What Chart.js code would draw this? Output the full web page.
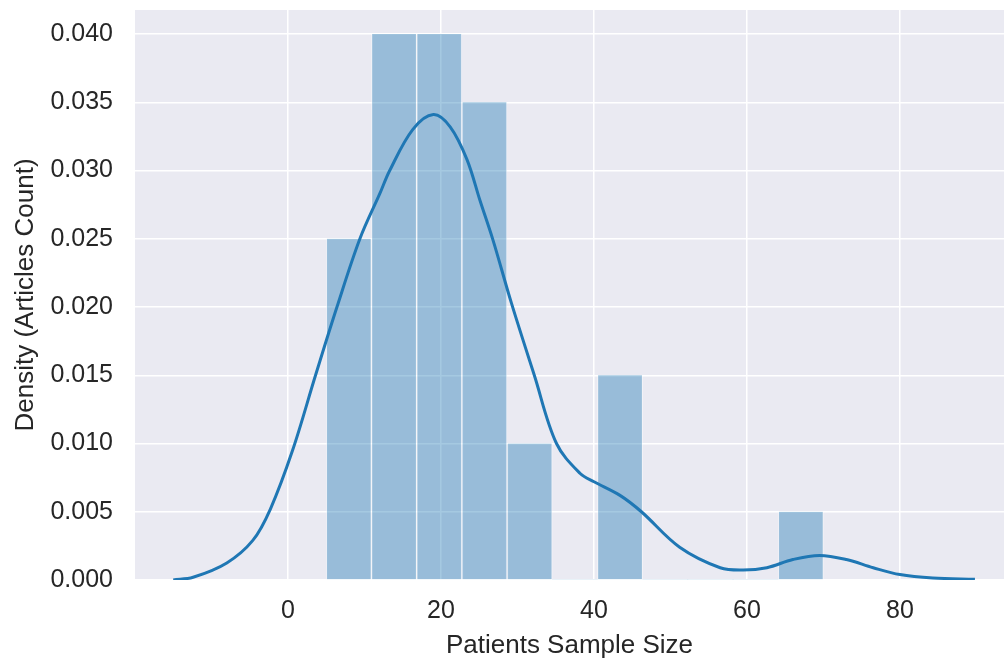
<!DOCTYPE html>
<html>
<head>
<meta charset="utf-8">
<script src="https://cdn.jsdelivr.net/npm/chart.js@4/dist/chart.umd.min.js"></script>
<style>
  body { margin: 0; background: #fff; }
  canvas { display: block; }
</style>
</head>
<body>
<canvas id="histChart" width="1004" height="666"></canvas>
<script>
// histogram bins (edges) and density of each bin
const binEdges = [5, 10.91, 16.82, 22.73, 28.64, 34.55, 40.45, 46.36, 52.27, 58.18, 64.09, 70];
const binDensity = [0.025, 0.040, 0.040, 0.035, 0.010, 0, 0.015, 0, 0, 0, 0.005];

// kde curve
const kdeX = [-15, -12.4, -8, -4.6, -2.3, 0.6, 3.6, 6.4, 9.4, 12, 13.3, 16.3, 19, 21.2, 23.4,
  25.1, 26.8, 29.2, 32.2, 35.1, 38.2, 40, 43.4, 46.2, 51.2, 56.5, 59.5, 62.6, 66, 69.5, 73, 76.5, 80, 84.3, 89.8];
const kdeY = [0, 0.0002, 0.00125, 0.0029, 0.0052, 0.0095, 0.015, 0.020, 0.025, 0.0283, 0.030, 0.0330, 0.0341, 0.0332, 0.0308,
  0.0278, 0.0249, 0.0203, 0.015, 0.010, 0.0078, 0.0072, 0.0062, 0.005, 0.0024, 0.0009, 0.00073, 0.0009, 0.0015, 0.0018, 0.0015, 0.0009, 0.0004, 0.00015, 0.00005];

const xTicks = [0, 20, 40, 60, 80];
const yTicks = [0, 0.005, 0.010, 0.015, 0.020, 0.025, 0.030, 0.035, 0.040];

const TEXT = '#262626';
const FONT = 'Liberation Sans, Arial, sans-serif';

const barData = binDensity.map((d, i) => ({ x: (binEdges[i] + binEdges[i + 1]) / 2, y: d }));
const kdeData = kdeX.map((x, i) => ({ x, y: kdeY[i] }));

const plotBg = {
  id: 'plotBg',
  beforeDraw(chart) {
    const { ctx, chartArea: a } = chart;
    ctx.save();
    ctx.fillStyle = '#eaeaf2';
    ctx.fillRect(a.left, a.top, a.right - a.left, a.bottom - a.top);
    ctx.restore();
  },
};

const ctx = document.getElementById('histChart').getContext('2d');
new Chart(ctx, {
  type: 'bar',
  data: {
    datasets: [
      {
        type: 'line',
        data: kdeData,
        borderColor: '#1f77b4',
        borderWidth: 3,
        pointRadius: 0,
        tension: 0.35,
        fill: false,
        order: 0,
      },
      {
        type: 'bar',
        data: barData,
        backgroundColor: 'rgba(31,119,180,0.4)',
        borderColor: 'rgba(255,255,255,0.45)',
        borderWidth: (c) => (c.raw && c.raw.y ? { left: 1, right: 1, top: 0, bottom: 0 } : 0),
        borderSkipped: false,
        barPercentage: 1,
        categoryPercentage: 1,
        order: 1,
      },
    ],
  },
  options: {
    responsive: false,
    animation: false,
    layout: { padding: { top: 10, right: 0, left: 0, bottom: 0 } },
    plugins: { legend: { display: false }, tooltip: { enabled: false } },
    scales: {
      x: {
        type: 'linear',
        min: -20,
        max: 93.6,
        offset: false,
        afterBuildTicks: (s) => { s.ticks = xTicks.map((v) => ({ value: v })); },
        afterFit: (s) => { s.height = 86; s.paddingLeft = 0; s.paddingRight = 0; },
        grid: { color: '#ffffff', lineWidth: 1.5, drawTicks: false, offset: false },
        border: { display: false },
        ticks: { color: TEXT, font: { family: FONT, size: 25 }, padding: 16, maxRotation: 0 },
        title: { display: true, text: 'Patients Sample Size', color: TEXT, font: { family: FONT, size: 26 }, padding: { top: 0, bottom: 5 } },
      },
      y: {
        min: 0,
        max: 0.04176,
        afterBuildTicks: (s) => { s.ticks = yTicks.map((v) => ({ value: v })); },
        afterFit: (s) => { s.width = 135; s.paddingTop = 0; s.paddingBottom = 0; },
        grid: { color: '#ffffff', lineWidth: 1.5, drawTicks: false },
        border: { display: false },
        ticks: { color: TEXT, font: { family: FONT, size: 25 }, padding: 22, callback: (v) => v.toFixed(3) },
        title: { display: true, text: 'Density (Articles Count)', color: TEXT, font: { family: FONT, size: 26 }, padding: { top: 10, bottom: 0 } },
      },
    },
  },
  plugins: [plotBg],
});
</script>
</body>
</html>
